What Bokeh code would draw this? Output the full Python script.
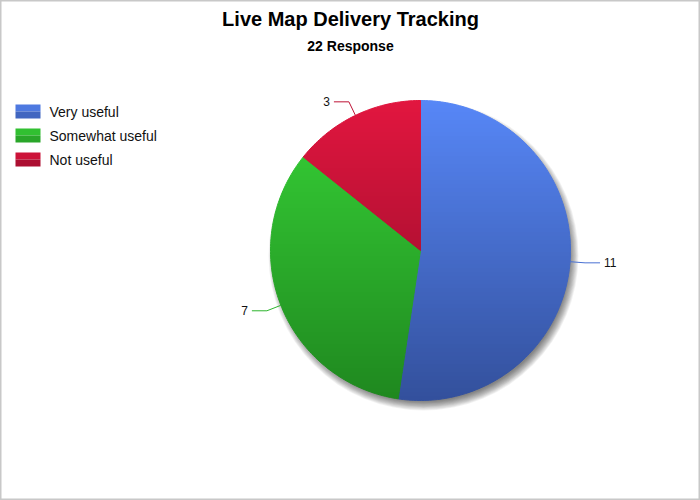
import math
from bokeh.plotting import figure
from bokeh.models import Range1d
from bokeh.core.properties import value
from bokeh.embed import file_html
from bokeh.resources import INLINE

title = "Live Map Delivery Tracking"
subtitle = "22 Response"
categories = ["Very useful", "Somewhat useful", "Not useful"]
counts = [11, 7, 3]
top_colors = ["#5787f7", "#37d237", "#e2163f"]
bottom_colors = ["#33509c", "#1f881f", "#880b27"]

W, H = 700, 500
CX, CY, R = 420, 250, 150
FONT = "Liberation Sans"

p = figure(width=W, height=H, x_range=Range1d(0, W), y_range=Range1d(H, 0),
           output_backend="svg", toolbar_location=None, min_border=0)
p.axis.visible = False
p.grid.visible = False
p.outline_line_color = "#c8c8c8"
p.outline_line_width = 2
p.background_fill_color = "white"
p.border_fill_color = "white"


def hex2rgb(h):
    h = h.lstrip("#")
    return tuple(int(h[i:i + 2], 16) for i in (0, 2, 4))


def mix(c1, c2, t):
    a, b = hex2rgb(c1), hex2rgb(c2)
    return "#%02x%02x%02x" % tuple(int(round(a[i] + (b[i] - a[i]) * t)) for i in range(3))


def pt(ang_deg, r):
    a = math.radians(ang_deg)
    return CX + r * math.sin(a), CY - r * math.cos(a)


def clip(poly, yv, keep_below):
    out = []
    n = len(poly)
    for i in range(n):
        cur, prev = poly[i], poly[i - 1]
        ci = (cur[1] >= yv) if keep_below else (cur[1] <= yv)
        pi = (prev[1] >= yv) if keep_below else (prev[1] <= yv)
        if ci:
            if not pi:
                t = (yv - prev[1]) / (cur[1] - prev[1])
                out.append((prev[0] + t * (cur[0] - prev[0]), yv))
            out.append(cur)
        elif pi:
            t = (yv - prev[1]) / (cur[1] - prev[1])
            out.append((prev[0] + t * (cur[0] - prev[0]), yv))
    return out


# shadow
for k in range(12):
    p.circle(x=[CX + 3], y=[CY + 5], radius=R + 5 - k * 0.8, fill_color="#000000",
             fill_alpha=0.05, line_color=None)

total = sum(counts)
start = 0.0
NB = 75
label_info = []
for cat, c, tc, bc in zip(categories, counts, top_colors, bottom_colors):
    span = c / total * 360.0
    a0, a1 = start, start + span
    poly = [(CX, CY)]
    steps = max(4, int(span))
    for i in range(steps + 1):
        poly.append(pt(a0 + span * i / steps, R))
    xs, ys, cols = [], [], []
    for b in range(NB):
        y0 = CY - R + 2 * R * b / NB
        y1 = CY - R + 2 * R * (b + 1) / NB
        piece = clip(clip(poly, y0, True), y1, False)
        if len(piece) >= 3:
            xs.append([q[0] for q in piece])
            ys.append([q[1] for q in piece])
            cols.append(mix(tc, bc, (b + 0.5) / NB))
    p.patches(xs=xs, ys=ys, fill_color=cols, line_color=cols, line_width=1)
    label_info.append((a0 + span / 2, c, tc, bc))
    start = a1

# leader lines and labels
for mid, c, tc, bc in label_info:
    x1, y1 = pt(mid, R)
    x2, y2 = pt(mid, R + 15)
    right = math.sin(math.radians(mid)) >= 0
    x3 = x2 + 15 if right else x2 - 15
    col = mix(tc, bc, 0.4)
    p.line(x=[x1, x2, x3], y=[y1, y2, y2], line_color=col, line_width=1)
    p.text(x=[x3 + 4 if right else x3 - 4], y=[y2], text=[str(c)],
           text_align="left" if right else "right", text_baseline="middle",
           text_font=value(FONT), text_font_size="12px", text_color="#111111")

# legend
for i, (cat, tc, bc) in enumerate(zip(categories, top_colors, bottom_colors)):
    yc = 111 + 24 * i
    p.quad(left=[15], right=[40], top=[yc - 7], bottom=[yc], fill_color=mix(tc, bc, 0.25),
           line_color=None)
    p.quad(left=[15], right=[40], top=[yc], bottom=[yc + 7], fill_color=mix(tc, bc, 0.6),
           line_color=None)
    p.text(x=[49], y=[yc], text=[cat], text_align="left", text_baseline="middle",
           text_font=value(FONT), text_font_size="14px", text_color="#111111")

# titles
p.text(x=[W / 2], y=[18], text=[title], text_align="center", text_baseline="middle",
       text_font=value(FONT), text_font_size="20px", text_font_style="bold", text_color="#000000")
p.text(x=[W / 2], y=[45], text=[subtitle], text_align="center", text_baseline="middle",
       text_font=value(FONT), text_font_size="14px", text_font_style="bold", text_color="#000000")

open("out.html", "w").write(file_html(p, INLINE))
